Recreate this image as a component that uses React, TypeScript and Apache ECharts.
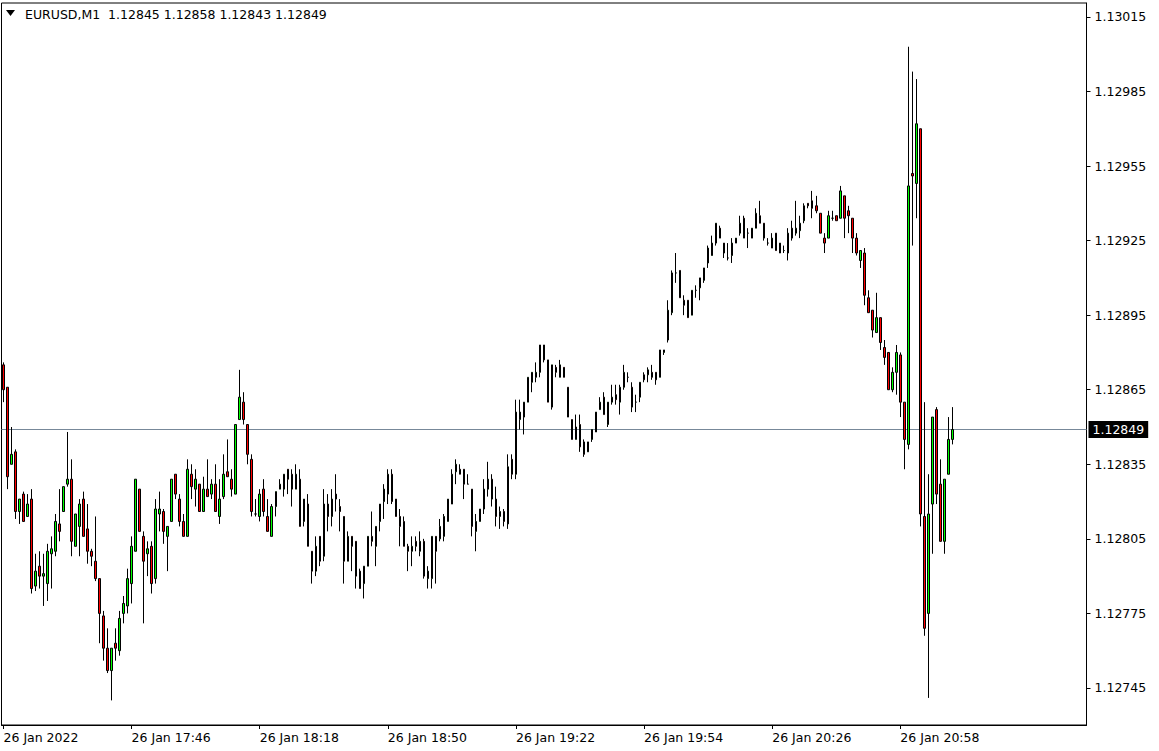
import React, { useEffect, useRef } from "react";
import * as echarts from "echarts";

const symbolName = "EURUSD,M1";
const dayLabel = "26 Jan";
const firstTickLabel = "26 Jan 2022";
const startTime = "17:14";
const totalSlots = 271;
const labelEvery = 32;
const fontFamily = "DejaVu Sans";
const fontSize = 12.5;

const priceTicks = [1.12745, 1.12775, 1.12805, 1.12835, 1.12865, 1.12895, 1.12925, 1.12955, 1.12985, 1.13015];
const yMin = 1.127301;
const yMax = 1.130206;

const open = [
  1.12875,1.12866,1.12835,1.12840,1.12816,1.12823,1.12814,1.12821,1.12786,1.12794,
  1.12790,1.12787,1.12799,1.12800,1.12811,1.12816,1.12827,1.12829,1.12802,1.12810,
  1.12821,1.12809,1.12800,1.12796,1.12789,1.12774,1.12761,1.12752,1.12763,1.12760,
  1.12775,1.12778,1.12787,1.12800,1.12825,1.12806,1.12799,1.12802,1.12789,1.12815,
  1.12816,1.12806,1.12812,1.12831,1.12821,1.12812,1.12806,1.12831,1.12825,1.12827,
  1.12816,1.12825,1.12823,1.12827,1.12814,1.12822,1.12832,1.12829,1.12823,1.12853,
  1.12860,1.12851,1.12837,1.12815,1.12814,1.12825,1.12814,1.12806,1.12818,1.12825,
  1.12825,1.12833,1.12831,1.12825,1.12829,1.12812,1.12819,1.12800,1.12792,1.12806,
  1.12798,1.12819,1.12814,1.12823,1.12818,1.12814,1.12796,1.12806,1.12804,1.12792,
  1.12787,1.12794,1.12806,1.12802,1.12812,1.12820,1.12823,1.12831,1.12821,1.12814,
  1.12812,1.12802,1.12800,1.12804,1.12800,1.12804,1.12789,1.12789,1.12806,1.12805,
  1.12806,1.12812,1.12819,1.12832,1.12833,1.12833,1.12827,1.12825,1.12808,1.12812,
  1.12817,1.12825,1.12829,1.12821,1.12814,1.12816,1.12811,1.12837,1.12831,1.12853,
  1.12854,1.12860,1.12868,1.12870,1.12872,1.12883,1.12877,1.12858,1.12874,1.12870,
  1.12874,1.12866,1.12853,1.12845,1.12851,1.12844,1.12840,1.12845,1.12848,1.12857,
  1.12862,1.12851,1.12860,1.12863,1.12860,1.12866,1.12870,1.12866,1.12860,1.12862,
  1.12871,1.12871,1.12872,1.12872,1.12870,1.12880,1.12885,1.12896,1.12912,1.12913,
  1.12901,1.12901,1.12895,1.12905,1.12906,1.12909,1.12916,1.12919,1.12924,1.12930,
  1.12924,1.12918,1.12919,1.12924,1.12928,1.12934,1.12928,1.12926,1.12930,1.12935,
  1.12932,1.12924,1.12922,1.12928,1.12920,1.12921,1.12920,1.12930,1.12928,1.12929,
  1.12933,1.12940,1.12941,1.12939,1.12936,1.12926,1.12926,1.12934,1.12935,1.12934,
  1.12943,1.12937,1.12934,1.12926,1.12917,1.12920,1.12902,1.12897,1.12888,1.12894,
  1.12882,1.12880,1.12865,1.12872,1.12879,1.12860,1.12843,1.12952,1.12948,1.12970,
  1.12814,1.12775,1.12819,1.12857,1.12827,1.12804,1.12831,1.12845,
];

const high = [
  1.12876,1.12866,1.12850,1.12841,1.12821,1.12824,1.12823,1.12825,1.12799,1.12800,
  1.12799,1.12803,1.12806,1.12815,1.12825,1.12826,1.12848,1.12837,1.12815,1.12821,
  1.12824,1.12819,1.12801,1.12814,1.12789,1.12776,1.12769,1.12761,1.12769,1.12776,
  1.12782,1.12793,1.12806,1.12829,1.12825,1.12808,1.12804,1.12804,1.12821,1.12824,
  1.12817,1.12810,1.12829,1.12831,1.12823,1.12815,1.12837,1.12835,1.12833,1.12827,
  1.12830,1.12837,1.12829,1.12835,1.12829,1.12839,1.12845,1.12833,1.12851,1.12873,
  1.12864,1.12851,1.12839,1.12821,1.12825,1.12829,1.12821,1.12819,1.12824,1.12829,
  1.12831,1.12833,1.12833,1.12835,1.12833,1.12821,1.12823,1.12800,1.12806,1.12806,
  1.12825,1.12823,1.12825,1.12831,1.12821,1.12814,1.12808,1.12806,1.12804,1.12793,
  1.12794,1.12806,1.12816,1.12810,1.12819,1.12827,1.12833,1.12833,1.12821,1.12817,
  1.12814,1.12803,1.12806,1.12806,1.12808,1.12805,1.12794,1.12806,1.12806,1.12813,
  1.12815,1.12821,1.12833,1.12837,1.12835,1.12833,1.12831,1.12825,1.12815,1.12817,
  1.12829,1.12836,1.12831,1.12826,1.12818,1.12817,1.12839,1.12839,1.12861,1.12861,
  1.12860,1.12870,1.12872,1.12876,1.12883,1.12883,1.12877,1.12875,1.12875,1.12877,
  1.12874,1.12866,1.12853,1.12855,1.12855,1.12845,1.12844,1.12849,1.12856,1.12862,
  1.12864,1.12860,1.12867,1.12867,1.12867,1.12875,1.12872,1.12868,1.12863,1.12868,
  1.12872,1.12874,1.12875,1.12872,1.12881,1.12881,1.12901,1.12913,1.12920,1.12913,
  1.12903,1.12901,1.12905,1.12907,1.12910,1.12914,1.12923,1.12927,1.12932,1.12931,
  1.12924,1.12924,1.12926,1.12926,1.12935,1.12935,1.12930,1.12930,1.12938,1.12941,
  1.12932,1.12926,1.12928,1.12928,1.12924,1.12923,1.12930,1.12933,1.12941,1.12935,
  1.12940,1.12940,1.12945,1.12943,1.12936,1.12928,1.12937,1.12937,1.12935,1.12947,
  1.12943,1.12939,1.12934,1.12928,1.12921,1.12922,1.12905,1.12897,1.12904,1.12894,
  1.12885,1.12880,1.12874,1.12883,1.12880,1.12860,1.13003,1.12993,1.12990,1.12970,
  1.12860,1.12831,1.12854,1.12858,1.12837,1.12829,1.12854,1.12858,
];

const low = [
  1.12860,1.12825,1.12835,1.12813,1.12811,1.12812,1.12814,1.12783,1.12784,1.12785,
  1.12778,1.12780,1.12785,1.12798,1.12804,1.12816,1.12826,1.12798,1.12802,1.12798,
  1.12806,1.12795,1.12794,1.12788,1.12763,1.12756,1.12751,1.12740,1.12756,1.12758,
  1.12771,1.12775,1.12779,1.12800,1.12808,1.12771,1.12790,1.12783,1.12787,1.12808,
  1.12803,1.12792,1.12812,1.12821,1.12810,1.12806,1.12806,1.12821,1.12818,1.12816,
  1.12816,1.12822,1.12821,1.12816,1.12811,1.12821,1.12830,1.12822,1.12823,1.12853,
  1.12851,1.12835,1.12814,1.12814,1.12812,1.12814,1.12808,1.12806,1.12814,1.12825,
  1.12822,1.12823,1.12818,1.12825,1.12810,1.12810,1.12802,1.12787,1.12790,1.12794,
  1.12796,1.12808,1.12810,1.12816,1.12808,1.12787,1.12796,1.12792,1.12785,1.12785,
  1.12781,1.12794,1.12802,1.12794,1.12808,1.12813,1.12819,1.12819,1.12814,1.12802,
  1.12802,1.12792,1.12794,1.12800,1.12798,1.12789,1.12785,1.12785,1.12787,1.12804,
  1.12804,1.12812,1.12819,1.12827,1.12831,1.12821,1.12827,1.12806,1.12800,1.12812,
  1.12815,1.12822,1.12818,1.12810,1.12809,1.12810,1.12809,1.12829,1.12829,1.12849,
  1.12847,1.12860,1.12864,1.12868,1.12870,1.12876,1.12860,1.12857,1.12870,1.12870,
  1.12870,1.12854,1.12845,1.12845,1.12840,1.12838,1.12840,1.12844,1.12848,1.12857,
  1.12855,1.12850,1.12859,1.12859,1.12855,1.12865,1.12868,1.12856,1.12856,1.12860,
  1.12868,1.12868,1.12869,1.12867,1.12870,1.12879,1.12884,1.12895,1.12908,1.12902,
  1.12895,1.12894,1.12895,1.12902,1.12901,1.12908,1.12914,1.12919,1.12923,1.12926,
  1.12918,1.12917,1.12916,1.12924,1.12927,1.12926,1.12922,1.12926,1.12930,1.12932,
  1.12925,1.12923,1.12922,1.12921,1.12920,1.12920,1.12917,1.12925,1.12927,1.12926,
  1.12932,1.12938,1.12934,1.12936,1.12928,1.12920,1.12926,1.12933,1.12933,1.12934,
  1.12926,1.12928,1.12920,1.12919,1.12914,1.12899,1.12896,1.12886,1.12888,1.12881,
  1.12875,1.12865,1.12864,1.12863,1.12854,1.12833,1.12841,1.12923,1.12934,1.12810,
  1.12766,1.12741,1.12799,1.12819,1.12804,1.12799,1.12831,1.12843,
];

const close = [
  1.12865,1.12830,1.12839,1.12816,1.12821,1.12812,1.12819,1.12785,1.12792,1.12790,
  1.12791,1.12800,1.12801,1.12812,1.12808,1.12826,1.12829,1.12804,1.12815,1.12819,
  1.12806,1.12800,1.12798,1.12789,1.12775,1.12761,1.12752,1.12761,1.12761,1.12773,
  1.12779,1.12789,1.12802,1.12829,1.12808,1.12796,1.12801,1.12787,1.12817,1.12817,
  1.12808,1.12810,1.12829,1.12823,1.12812,1.12806,1.12833,1.12826,1.12829,1.12816,
  1.12825,1.12822,1.12827,1.12816,1.12821,1.12831,1.12830,1.12825,1.12851,1.12862,
  1.12853,1.12839,1.12816,1.12815,1.12823,1.12816,1.12808,1.12818,1.12824,1.12827,
  1.12831,1.12829,1.12825,1.12831,1.12810,1.12821,1.12802,1.12792,1.12802,1.12796,
  1.12819,1.12814,1.12821,1.12821,1.12816,1.12796,1.12806,1.12802,1.12790,1.12785,
  1.12794,1.12806,1.12804,1.12810,1.12819,1.12825,1.12831,1.12820,1.12814,1.12810,
  1.12802,1.12800,1.12802,1.12802,1.12804,1.12790,1.12792,1.12806,1.12800,1.12810,
  1.12814,1.12821,1.12831,1.12835,1.12831,1.12827,1.12827,1.12810,1.12812,1.12817,
  1.12825,1.12829,1.12821,1.12814,1.12816,1.12812,1.12834,1.12831,1.12856,1.12856,
  1.12860,1.12870,1.12872,1.12872,1.12883,1.12877,1.12860,1.12875,1.12872,1.12875,
  1.12870,1.12854,1.12845,1.12850,1.12842,1.12839,1.12844,1.12849,1.12856,1.12860,
  1.12855,1.12860,1.12862,1.12861,1.12866,1.12872,1.12870,1.12858,1.12860,1.12868,
  1.12869,1.12873,1.12870,1.12869,1.12881,1.12881,1.12897,1.12912,1.12912,1.12902,
  1.12899,1.12894,1.12905,1.12905,1.12910,1.12914,1.12922,1.12924,1.12932,1.12926,
  1.12920,1.12918,1.12924,1.12926,1.12932,1.12926,1.12928,1.12930,1.12936,1.12932,
  1.12926,1.12924,1.12926,1.12921,1.12924,1.12921,1.12928,1.12926,1.12930,1.12932,
  1.12939,1.12939,1.12938,1.12937,1.12928,1.12924,1.12935,1.12934,1.12933,1.12945,
  1.12934,1.12935,1.12926,1.12920,1.12921,1.12903,1.12896,1.12889,1.12894,1.12884,
  1.12878,1.12865,1.12872,1.12880,1.12860,1.12845,1.12947,1.12951,1.12972,1.12815,
  1.12769,1.12815,1.12854,1.12823,1.12804,1.12829,1.12845,1.12849,
];

function buildTimes(): string[] {
  const [h, m] = startTime.split(":").map(Number);
  const out: string[] = [];
  for (let i = 0; i < totalSlots; i++) {
    const t = h * 60 + m + i;
    out.push(String(Math.floor(t / 60)).padStart(2, "0") + ":" + String(t % 60).padStart(2, "0"));
  }
  return out;
}

export default function App() {
  const ref = useRef<HTMLDivElement>(null);

  useEffect(() => {
    if (!ref.current) return;
    const chart = echarts.init(ref.current, undefined, { renderer: "svg" });
    const times = buildTimes();
    const n = close.length;
    const last = n - 1;
    const candles = open.map((o, i) => [o, close[i], low[i], high[i]]);
    const showTick = (index: number) => index % labelEvery === 0 && index < n;
    const header =
      symbolName + "\u00a0\u00a0" +
      [open[last], high[last], low[last], close[last]].map((v) => v.toFixed(5)).join(" ");

    chart.setOption({
      animation: false,
      backgroundColor: "#ffffff",
      grid: {
        left: 1.5,
        right: 72.5,
        top: 3,
        bottom: 26,
        show: true,
        borderColor: "#000000",
        borderWidth: 1,
        backgroundColor: "#ffffff",
      },
      xAxis: {
        type: "category",
        data: times,
        boundaryGap: true,
        axisLine: { show: true, lineStyle: { color: "#000000", width: 1 } },
        axisTick: {
          show: true,
          alignWithLabel: true,
          interval: (index: number) => showTick(index),
          length: 4,
          lineStyle: { color: "#000000" },
        },
        axisLabel: {
          show: true,
          interval: (index: number) => showTick(index),
          formatter: (value: string, index: number) => (index === 0 ? firstTickLabel : dayLabel + " " + value),
          align: "left",
          color: "#000000",
          fontSize,
          fontFamily,
          margin: 6,
        },
        splitLine: { show: false },
      },
      yAxis: {
        type: "value",
        position: "right",
        min: yMin,
        max: yMax,
        scale: true,
        axisLine: { show: true, lineStyle: { color: "#000000" } },
        axisTick: {
          show: true,
          length: 4,
          customValues: priceTicks,
          lineStyle: { color: "#000000" },
        },
        axisLabel: {
          show: true,
          customValues: priceTicks,
          formatter: (v: number) => v.toFixed(5),
          color: "#000000",
          fontSize,
          fontFamily,
          margin: 8,
        },
        splitLine: { show: false },
      },
      graphic: [
        {
          type: "polygon",
          shape: { points: [[6, 10], [15, 10], [10.5, 16]] },
          style: { fill: "#000000" },
        },
        {
          type: "text",
          x: 25,
          y: 14.5,
          style: {
            text: header,
            fill: "#000000",
            fontSize,
            fontFamily,
            verticalAlign: "middle",
          },
        },
      ],
      series: [
        {
          type: "candlestick",
          data: candles,
          barWidth: 2,
          itemStyle: {
            color: "#00ff00",
            color0: "#ff0000",
            borderColor: "#000000",
            borderColor0: "#000000",
            borderColorDoji: "#000000",
            borderWidth: 1,
          },
          markLine: {
            silent: true,
            precision: 5,
            symbol: ["none", "none"],
            animation: false,
            z: 1,
            lineStyle: { color: "#778899", type: "solid", width: 1 },
            label: {
              show: true,
              position: "end",
              distance: 2,
              formatter: () => close[last].toFixed(5),
              color: "#ffffff",
              backgroundColor: "#000000",
              padding: [2, 4, 2, 4],
              fontSize,
              fontFamily,
            },
            data: [{ yAxis: close[last] }],
          },
        },
      ],
    });

    return () => chart.dispose();
  }, []);

  return (
    <div
      ref={ref}
      style={{ position: "fixed", left: 0, top: 0, width: 1159, height: 751, background: "#ffffff" }}
    />
  );
}
